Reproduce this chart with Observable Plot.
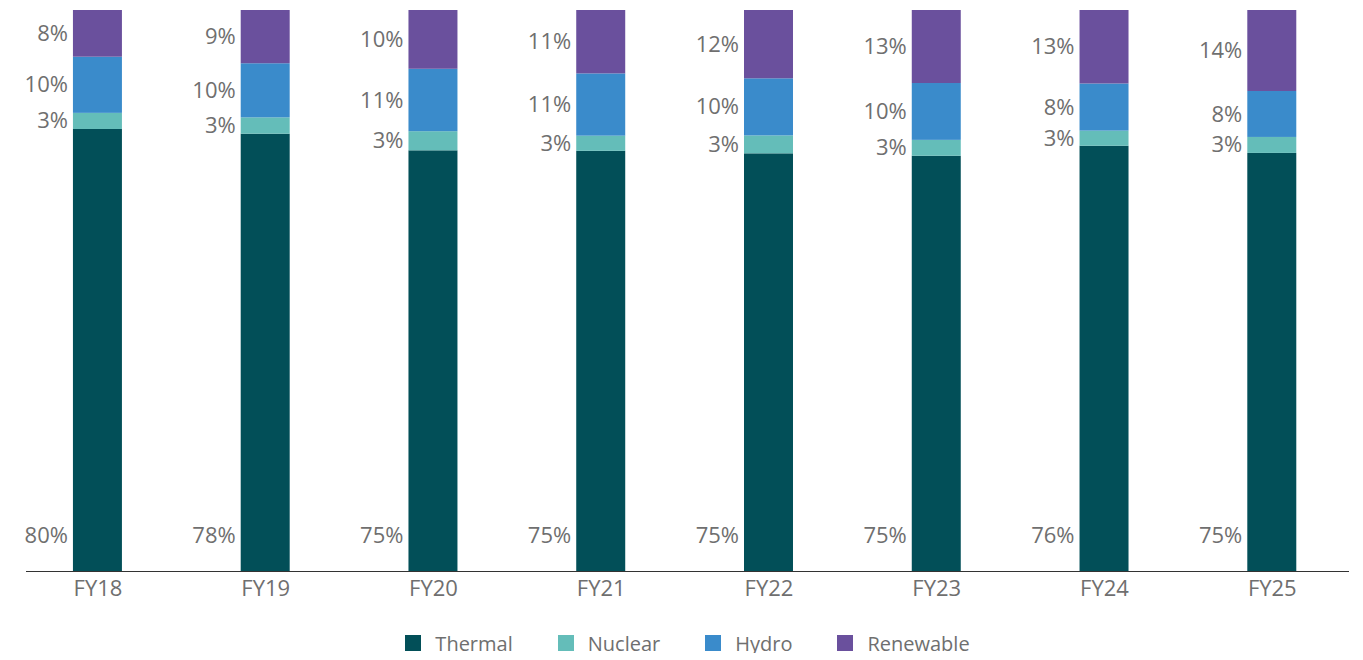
<!DOCTYPE html>
<html>
<head>
<meta charset="utf-8">
<script src="https://cdn.jsdelivr.net/npm/d3@7"></script>
<script src="https://cdn.jsdelivr.net/npm/@observablehq/plot@0.6"></script>
<style>
  html, body { margin: 0; padding: 0; background: #fff; overflow: hidden; }
  #legend {
    display: flex; justify-content: center; align-items: center;
    box-sizing: border-box; width: 1363px; padding: 0 14px 0 26px;
    margin-top: 23px; height: 20px;
    font-family: "Open Sans", sans-serif; font-size: 20px; color: #6f6f6f;
  }
  #legend .item { display: flex; align-items: center; margin: 0 22.5px; }
  #legend .sw { width: 16px; height: 16px; margin-right: 14px; }
</style>
</head>
<body>
<div id="chart"></div>
<div id="legend"></div>
<script>
// ---- data ----
const years = ["FY18", "FY19", "FY20", "FY21", "FY22", "FY23", "FY24", "FY25"];
const sources = ["Thermal", "Nuclear", "Hydro", "Renewable"];
const thermal   = [79.5, 77.6, 74.8, 74.9, 74.6, 74.5, 75.8, 74.6];
const nuclear   = [2.9, 2.9, 3.4, 2.7, 3.2, 2.85, 2.7, 2.85];
const hydro     = [10.1, 9.6, 11.1, 11.1, 10.2, 10.2, 8.4, 8.2];
const renewable = [8.4, 9.45, 10.45, 11.3, 12.2, 13.1, 13.1, 14.45];

const palette = ["#024f58", "#64bdb9", "#3a8bcb", "#6a509d"];
const seriesValues = [thermal, nuclear, hydro, renewable];

const data = [];
years.forEach((year, i) => {
  sources.forEach((source, j) => {
    data.push({year, source, value: seriesValues[j][i]});
  });
});

const textColor = "#6f6f6f";
const fmt = v => Math.round(v) + "%";

const chart = Plot.plot({
  width: 1363,
  height: 610,
  marginTop: 10,
  marginBottom: 39,
  marginLeft: 26,
  marginRight: 14,
  style: {fontFamily: "Open Sans, sans-serif", fontSize: "22px", color: textColor, background: "#fff"},
  x: {type: "band", domain: years, paddingInner: 0.708, paddingOuter: 0.297, align: 0.471, round: false, label: null},
  y: {domain: [0, 1], axis: null},
  color: {domain: sources, range: palette},
  marks: [
    Plot.barY(data, {x: "year", y: "value", fill: "source", z: "source", offset: "normalize"}),
    Plot.text(data, Plot.stackY({
      x: "year", y: "value", z: "source", offset: "normalize",
      text: d => d.source === "Thermal" ? "" : fmt(d.value),
      textAnchor: "end", dx: -30, fill: textColor, fontSize: 22
    })),
    Plot.text(data.filter(d => d.source === "Thermal"), {
      x: "year", y: 0, dy: -36,
      text: d => fmt(d.value),
      textAnchor: "end", dx: -30, fill: textColor, fontSize: 22
    }),
    Plot.ruleY([0], {stroke: "#333", strokeWidth: 1.2}),
    Plot.axisX({tickSize: 0, tickPadding: 9, fontSize: 22, fill: textColor, label: null})
  ]
});
document.getElementById("chart").appendChild(chart);

const legend = document.getElementById("legend");
sources.forEach((s, i) => {
  const item = document.createElement("div");
  item.className = "item";
  const sw = document.createElement("span");
  sw.className = "sw";
  sw.style.background = palette[i];
  const label = document.createElement("span");
  label.textContent = s;
  item.appendChild(sw);
  item.appendChild(label);
  legend.appendChild(item);
});
</script>
</body>
</html>
